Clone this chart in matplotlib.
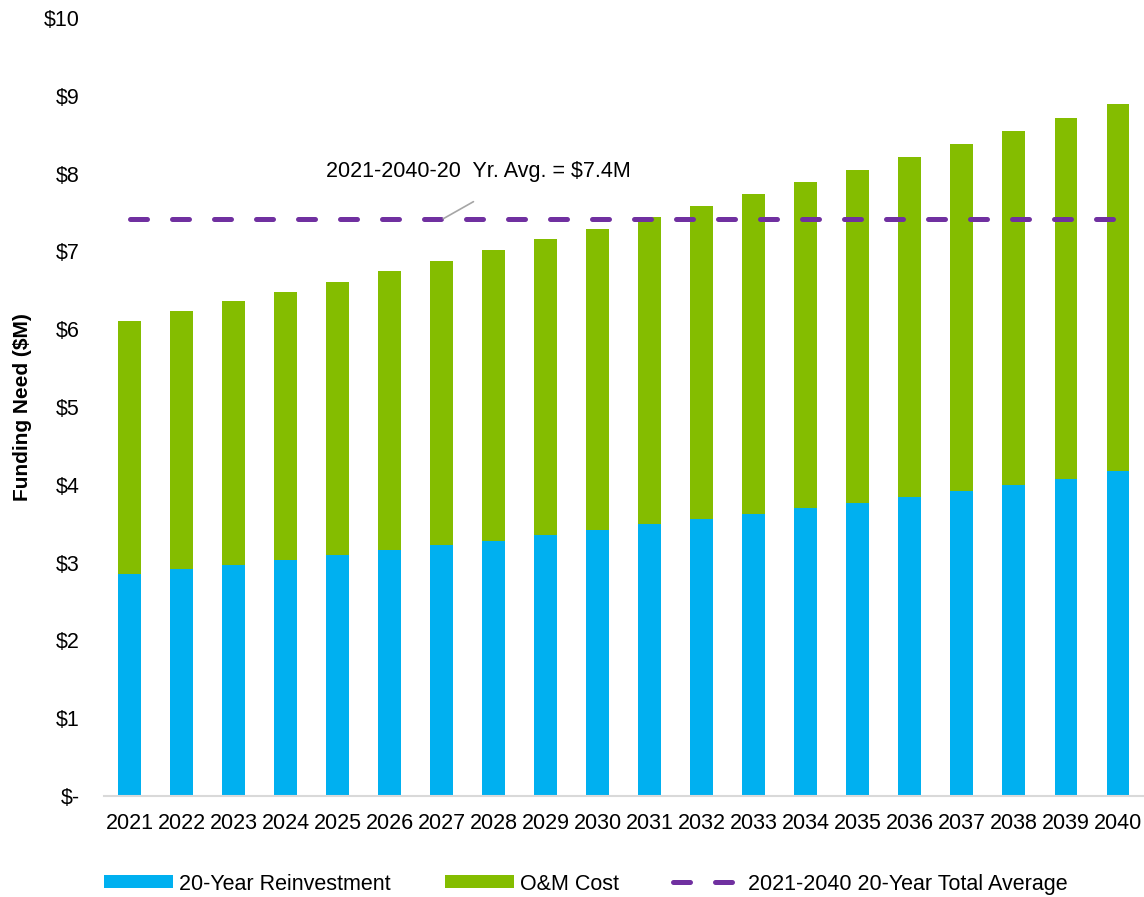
"""Stacked funding need chart, 2021-2040."""
import matplotlib
matplotlib.use('Agg')
from matplotlib import pyplot as plt
import numpy as np

years = ['2021', '2022', '2023', '2024', '2025', '2026', '2027', '2028', '2029', '2030',
         '2031', '2032', '2033', '2034', '2035', '2036', '2037', '2038', '2039', '2040']
reinvestment = [2.85, 2.92, 2.97, 3.03, 3.10, 3.16, 3.23, 3.28, 3.35, 3.42,
                3.50, 3.56, 3.62, 3.70, 3.77, 3.84, 3.92, 4.00, 4.07, 4.18]
total_need = [6.11, 6.23, 6.36, 6.48, 6.61, 6.75, 6.88, 7.02, 7.16, 7.29,
              7.44, 7.58, 7.74, 7.89, 8.05, 8.21, 8.38, 8.55, 8.71, 8.89]
om_cost = [t - r for t, r in zip(total_need, reinvestment)]
avg_need = 7.42
ytick_vals = [0, 1, 2, 3, 4, 5, 6, 7, 8, 9, 10]
ytick_labels = ['\\$-', '\\$1', '\\$2', '\\$3', '\\$4', '\\$5', '\\$6', '\\$7', '\\$8', '\\$9', '\\$10']

plt.rcParams['font.family'] = ['Liberation Sans', 'DejaVu Sans']
plt.rcParams['font.size'] = 15.5

fig = plt.figure(figsize=(11.44, 8.97), dpi=100)
ax = fig.add_axes([0.0905, 0.1126, 0.9095, 0.8673])

x = np.arange(len(years))
b1 = ax.bar(x, reinvestment, width=0.44, color='#00B0F0', label='20-Year Reinvestment')
b2 = ax.bar(x, om_cost, width=0.44, bottom=reinvestment, color='#84BD00', label='O&M Cost')
ln, = ax.plot([x[0], x[-1]], [avg_need, avg_need], color='#7030A0', lw=3.6,
              dashes=(3.4, 5.0), dash_capstyle='round', zorder=3,
              label='2021-2040 20-Year Total Average')

ax.annotate('2021-2040-20  Yr. Avg. = \\$7.4M', xy=(6.03, avg_need), xytext=(6.70, 8.03),
            ha='center', va='center', fontsize=15.5,
            arrowprops=dict(arrowstyle='-', color='#A6A6A6', lw=1.2, relpos=(0.6, 0),
                            shrinkA=25, shrinkB=0))

ax.set_xlim(-0.5, len(years) - 0.5)
ax.set_ylim(0, 10)
ax.set_xticks(x)
ax.set_xticklabels(years)
ax.set_yticks(ytick_vals)
ax.set_yticklabels(ytick_labels)
ax.tick_params(axis='both', length=0)
ax.tick_params(axis='y', pad=17)
ax.tick_params(axis='x', pad=12)
for side in ['top', 'right', 'left']:
    ax.spines[side].set_visible(False)
ax.spines['bottom'].set_color('#D9D9D9')
ax.spines['bottom'].set_linewidth(1.5)
ax.set_ylabel('Funding Need (\\$M)', fontweight='bold', fontsize=15, labelpad=9)

fig.legend(handles=[b1, b2, ln], loc='center', bbox_to_anchor=(586 / 1144, 1 - 884 / 897),
           ncol=3, frameon=False, handlelength=3.2, handleheight=0.55,
           columnspacing=2.5, handletextpad=0.3)

plt.savefig('out.png', dpi=100)
plt.close()
